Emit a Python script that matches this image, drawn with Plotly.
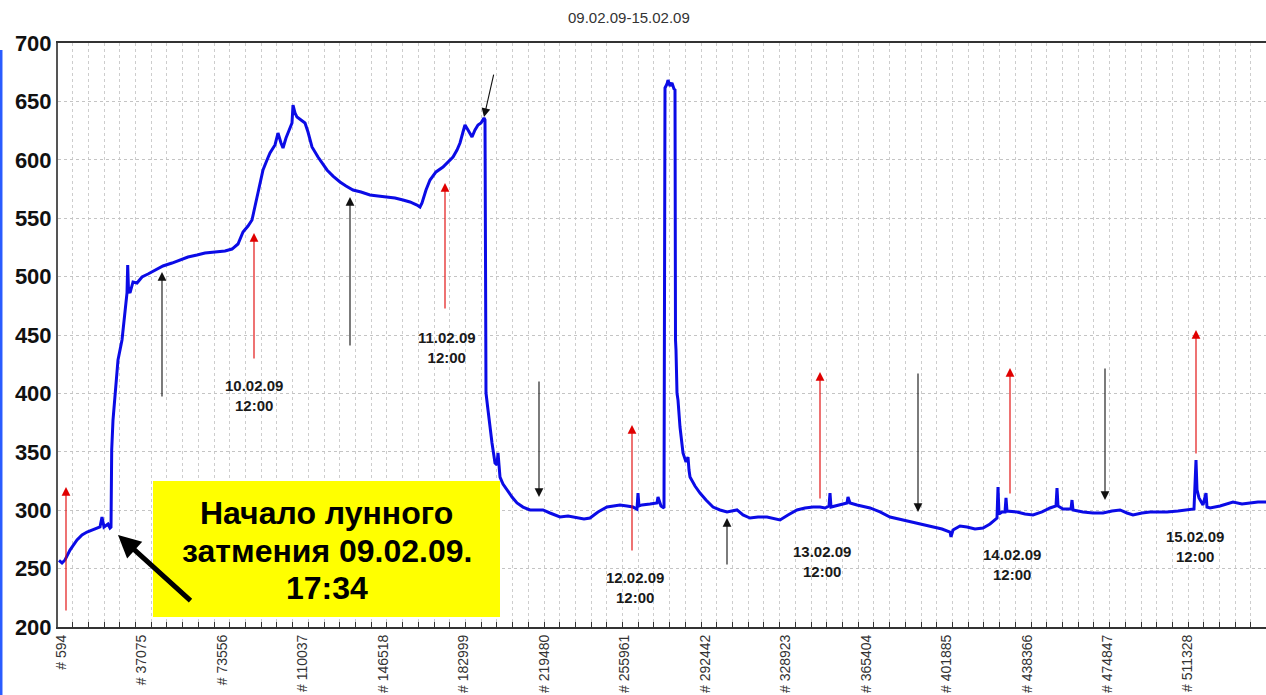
import plotly.graph_objects as go

# ---------------- data ----------------
sample_index = [
    -312, 1048, 2408, 4674, 7846, 10112, 12378, 15097, 18270, 19176, 20083, 21896, 22802,
    23255, 23573, 24162, 25068, 26428, 28240, 29600, 30506, 30824, 31186, 31866, 33225,
    35038, 37304, 40023, 43195, 46821, 50900, 54525, 58151, 62230, 65855, 70387, 74919,
    78091, 80811, 83077, 85343, 87156, 89422, 90782, 92141, 93954, 95314, 97580, 98939,
    100299, 101205, 102565, 103471, 104831, 105284, 105738, 106644, 107550, 109363, 111176,
    112535, 114348, 117067, 118880, 121146, 123865, 127038, 129757, 132929, 136555, 140634,
    144259, 148338, 151964, 155589, 158762, 161934, 163294, 164200, 166013, 167826, 170545,
    173717, 175983, 178249, 180062, 181422, 182781, 183688, 185047, 186860, 188220, 189579,
    190939, 192298, 192751, 192978, 193205, 194111, 195018, 195924, 197284, 198190, 198643,
    199096, 199549, 200909, 202722, 204988, 207254, 209973, 213145, 216318, 219037, 222210,
    226742, 230367, 234446, 237619, 240338, 243964, 248043, 251668, 253934, 257107, 259826,
    261639, 262092, 262545, 263904, 267530, 270702, 271155, 272515, 273875, 274328, 275234,
    275687, 276593, 277500, 278406, 278859, 279086, 279312, 279766, 280219, 281125, 282485,
    283845, 284751, 285204, 285657, 287923, 290189, 292908, 296081, 299253, 302426, 306958,
    309677, 312849, 316475, 320554, 324179, 326445, 330071, 334150, 337775, 341401, 344573,
    346839, 348652, 349105, 349558, 353637, 356809, 357263, 358169, 361341, 367233, 371765,
    376297, 382189, 388534, 392159, 395785, 399864, 403489, 403942, 404849, 408021, 411193,
    414819, 418444, 421617, 424789, 425242, 425695, 427055, 428415, 428868, 429321, 433853,
    437479, 441105, 445183, 448809, 451528, 451981, 452435, 454701, 458326, 458779, 459233,
    463765, 468297, 472829, 476908, 480534, 483706, 486425, 490504, 494130, 498662, 501834,
    506820, 512258, 514071, 514977, 515430, 516337, 518149, 519509, 519962, 521322, 525854,
    531745, 535824, 539450, 543076, 546701,
]
signal = [
    257.0, 254.8, 257.4, 265.9, 274.5, 278.8, 281.3, 283.0, 285.6, 294.2, 285.6, 288.2, 284.8,
    285.6, 351.5, 377.2, 400.3, 428.6, 445.7, 467.1, 486.0, 509.9, 488.5, 486.0, 495.4,
    494.5, 499.7, 502.2, 505.6, 509.1, 511.6, 514.2, 516.8, 518.5, 520.2, 521.1, 521.9,
    523.6, 527.9, 538.2, 543.3, 548.5, 568.2, 578.4, 591.3, 599.8, 605.8, 612.7, 622.9,
    614.4, 610.1, 618.7, 622.9, 628.1, 631.5, 646.9, 640.1, 636.6, 634.1, 631.5,
    623.8, 611.0, 602.4, 597.3, 591.3, 586.1, 581.0, 577.6, 574.1, 572.4, 569.9,
    569.0, 568.2, 567.3, 565.6, 563.9, 561.3, 559.6, 563.0, 574.1, 582.7, 589.6,
    593.8, 598.1, 602.4, 608.4, 614.4, 623.8, 629.8, 625.5, 619.5, 625.5, 629.8,
    631.5, 635.8, 634.1, 539.9, 400.3, 385.8, 368.7, 357.5, 340.4, 338.7, 349.0,
    334.4, 328.4, 322.4, 317.3, 311.3, 306.2, 302.7, 300.2, 300.2, 300.2, 297.6,
    294.2, 295.0, 293.3, 292.5, 293.3, 298.5, 302.7, 303.6, 304.5, 303.6, 302.7,
    301.0, 314.7, 303.6, 304.5, 305.3, 306.2, 311.3, 303.6, 301.9, 661.5, 664.9,
    668.3, 663.2, 665.8, 660.6, 659.8, 445.7, 437.2, 400.3, 394.3, 371.2, 349.0,
    341.3, 345.5, 334.4, 328.4, 320.7, 314.7, 308.7, 302.7, 300.2, 298.5, 300.2,
    295.9, 293.3, 294.2, 294.2, 292.5, 291.6, 295.9, 300.2, 301.9, 302.7, 302.7,
    301.9, 303.6, 314.7, 302.7, 304.5, 306.2, 311.3, 306.2, 304.5, 301.9, 298.5,
    294.2, 291.6, 289.0, 287.3, 285.6, 283.9, 281.3, 277.1, 283.0, 286.5, 285.6,
    283.9, 284.8, 288.2, 293.3, 319.9, 296.7, 298.5, 298.5, 310.5, 299.3, 298.5,
    296.7, 295.9, 298.5, 301.9, 303.6, 319.0, 303.6, 301.0, 301.0, 308.7, 300.2,
    298.5, 297.6, 297.6, 299.3, 300.2, 297.6, 295.9, 297.6, 298.5, 298.5, 298.5,
    299.3, 300.2, 301.0, 343.0, 317.3, 310.5, 304.5, 314.7, 302.7, 301.9, 303.6,
    307.0, 305.3, 306.2, 307.0, 307.0,
]

tick_values = [594, 37075, 73556, 110037, 146518, 182999, 219480, 255961,
               292442, 328923, 365404, 401885, 438366, 474847, 511328]
tick_labels = ["# " + str(v) for v in tick_values]

# red (up) arrows: x, tail value, head value
red_arrow_x = [2861, 88062, 174623, 259372, 344573, 430681, 514977]
red_arrow_tail = [212.8, 428.6, 471.4, 264.2, 308.7, 313.0, 347.3]
red_arrow_head = [319.9, 537.3, 580.1, 372.9, 418.3, 421.8, 454.3]

# black arrows: tail x, tail value, head x, head value
black_tail_x = [46368, 131569, 196830, 217224, 302426, 388987, 473735]
black_tail_y = [396.0, 439.7, 674.3, 411.5, 252.2, 418.3, 422.6]
black_head_x = [46368, 131569, 192298, 217224, 302426, 388987, 473735]
black_head_y = [503.9, 568.2, 636.6, 311.3, 293.3, 298.5, 308.7]

# date labels
date_label_x = [88062, 175530, 260731, 345480, 431588, 514524]
date_label_y = [398.6, 438.9, 234.0, 256.5, 253.9, 269.3]
date_label_text = ["10.02.09", "11.02.09", "12.02.09", "13.02.09", "14.02.09", "15.02.09"]

# eclipse note
note_text = ["Начало лунного", "затмения 09.02.09.", "17:34"]
note_line_y = [298.0, 265.5, 233.0]
note_box_x = [42289, 199549]
note_box_y = [208.6, 325.0]
note_arrow_tail = (59964, 221.4)
note_arrow_head = (26427, 278.8)

title_text = "09.02.09-15.02.09"

FONT = "Liberation Sans, Arial, sans-serif"

fig = go.Figure()
fig.add_trace(go.Scatter(
    x=sample_index, y=signal, mode="lines",
    line=dict(color="#0b0be6", width=3),
    hoverinfo="skip", showlegend=False,
))

annotations = []
for x, t, h in zip(red_arrow_x, red_arrow_tail, red_arrow_head):
    annotations.append(dict(
        x=x, y=h, ax=x, ay=t, xref="x", yref="y", axref="x", ayref="y",
        showarrow=True, arrowhead=2, arrowsize=1.6, arrowwidth=1.1,
        arrowcolor="#e00000", text="", standoff=0,
    ))
for tx, ty, hx, hy in zip(black_tail_x, black_tail_y, black_head_x, black_head_y):
    annotations.append(dict(
        x=hx, y=hy, ax=tx, ay=ty, xref="x", yref="y", axref="x", ayref="y",
        showarrow=True, arrowhead=2, arrowsize=1.6, arrowwidth=1.1,
        arrowcolor="#111111", text="", standoff=0,
    ))
for x, y, t in zip(date_label_x, date_label_y, date_label_text):
    annotations.append(dict(
        x=x, y=y, xref="x", yref="y", showarrow=False,
        text="<b>" + t + "</b><br><b>12:00</b>",
        font=dict(family=FONT, size=15, color="#1a1a1a"), align="center",
    ))
for s, y in zip(note_text, note_line_y):
    annotations.append(dict(
        x=(note_box_x[0] + note_box_x[1]) / 2, y=y,
        xref="x", yref="y", showarrow=False, text="<b>" + s + "</b>",
        font=dict(family=FONT, size=32, color="#000000"), align="center",
    ))
annotations.append(dict(
    x=note_arrow_head[0], y=note_arrow_head[1], ax=note_arrow_tail[0], ay=note_arrow_tail[1],
    xref="x", yref="y", axref="x", ayref="y", showarrow=True, arrowhead=2,
    arrowsize=0.9, arrowwidth=5, arrowcolor="#000000", text="", standoff=0,
))
annotations.append(dict(
    x=0.473, y=1 + (43 - 17.5) / 584, xref="paper", yref="paper", showarrow=False,
    text=title_text, font=dict(family=FONT, size=15, color="#333333"),
    xanchor="center", yanchor="middle",
))

shapes = [
    dict(type="rect", xref="x", yref="y", x0=note_box_x[0], x1=note_box_x[1],
         y0=note_box_y[0], y1=note_box_y[1], fillcolor="#ffff00",
         line=dict(width=0), layer="above"),
    dict(type="line", xref="paper", yref="paper", x0=-0.0472, x1=-0.0472,
         y0=0.988, y1=-0.12, line=dict(color="#2a5cff", width=3)),
]

fig.update_layout(
    width=1266, height=695,
    margin=dict(l=58, r=0, t=43, b=68),
    paper_bgcolor="white", plot_bgcolor="white",
    annotations=annotations, shapes=shapes,
    showlegend=False,
    font=dict(family=FONT),
)
fig.update_xaxes(
    range=[-765, 546701], tickmode="array", tickvals=tick_values, ticktext=tick_labels,
    tickangle=-90, tickfont=dict(family=FONT, size=14, color="#333333"),
    showgrid=False, zeroline=False, ticks="",
    showline=True, linecolor="#333333", linewidth=2, mirror=True,
    minor=dict(tick0=5897, dtick=7120, ticks="inside", ticklen=5, tickcolor="#333333",
               showgrid=True, gridcolor="#cdcdcd", griddash="dot", gridwidth=1),
)
fig.update_yaxes(
    range=[200, 700], dtick=50, tick0=200,
    tickfont=dict(family=FONT, size=22, color="#111111", weight="bold"),
    showgrid=True, gridcolor="#c4c4c4", griddash="dot", gridwidth=1,
    zeroline=False, ticks="", showline=True, linecolor="#555555", linewidth=2,
)

fig.write_html("out.html")
